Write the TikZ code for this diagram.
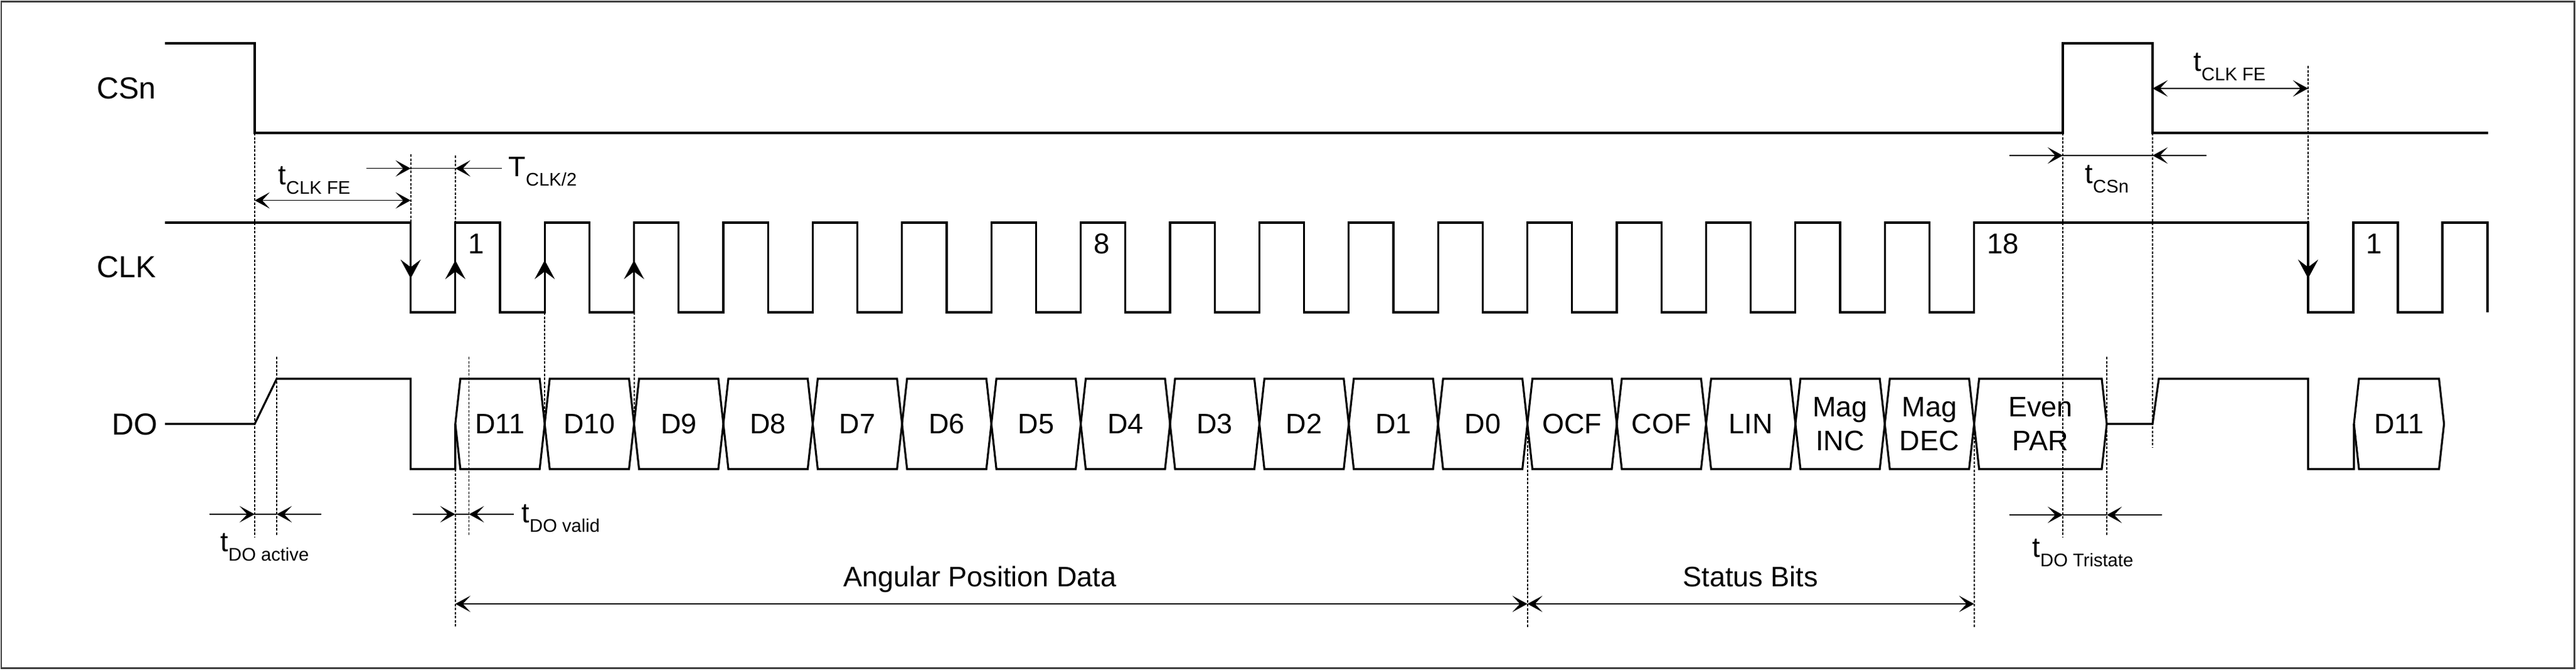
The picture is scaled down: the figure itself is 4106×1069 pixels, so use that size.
\documentclass[tikz,border=0pt]{standalone}
\usepackage{fontspec}
\setmainfont{Liberation Sans}
\usetikzlibrary{arrows.meta, positioning}
\newcommand{\tlab}[2]{#1\raisebox{-4.3pt}{\fontsize{8.3}{10}\selectfont #2}}

\begin{document}
\begin{tikzpicture}[x=0.1mm, y=-0.1mm]
    % Setup the styles for the waveforms and labels
        \tikzset{sig/.style={line width=0.9pt, line join=miter},
                 guide/.style={line width=0.55pt, dash pattern=on 1.2pt off 0.65pt},
                 dim/.style={line width=0.45pt,
                             >={Stealth[length=2.4mm, width=2.6mm, inset=1.2mm]}},
                 edge tip/.style={line width=0.9pt,
                             -{Stealth[length=3mm, width=3.2mm, inset=1.2mm]}},
                 sig label/.style={anchor=base west, inner sep=0,
                             font=\fontsize{13.8}{16}\selectfont},
                 cell label/.style={inner sep=0, align=center,
                             font=\fontsize{12.8}{15.3}\selectfont},
                 num label/.style={anchor=base west, inner sep=0,
                             font=\fontsize{13}{15}\selectfont},
                 time label/.style={anchor=base west, inner sep=0,
                             font=\fontsize{12.8}{15}\selectfont}}
        % Frame
        \useasboundingbox (0,0) rectangle (4106,1069);
        \draw[line width=0.85pt, black!75] (2,2) rectangle (4103,1065);
        % Signal names
        \node[sig label] at (153.5, 157)   (csn) {CSn};
        \node[sig label] at (153.5, 442.5) (clk) {CLK};
        \node[sig label, anchor=base east] at (252, 693) (do) {DO};
        % CSn
        \draw[sig] (263,69) -- (406,69) -- (406,212) -- (3288,212) -- (3288,69)
                   -- (3431,69) -- (3431,212) -- (3966,212);
        % CLK
        \draw[sig] (263,355) -- (654.6,355) -- (654.6,498) -- (725.8,498)
              \foreach \k in {0,...,16} { -- ++(0,-143) -- ++(71.2,0) -- ++(0,143) -- ++(71.2,0) }
              -- ++(0,-143) -- (3679,355) -- (3679,498) -- (3751,498) -- (3751,355)
              -- (3822,355) -- (3822,498) -- (3893,498) -- (3893,355) -- (3965,355) -- (3965,498);
        % DO
        \draw[sig] (263,676) -- (406,676) -- (441,604) -- (654.6,604) -- (654.6,748)
                   -- (725.8,748) -- (725.8,676);
        \foreach \lbl [count=\i from 0] in {D11,D10,D9,D8,D7,D6,D5,D4,D3,D2,D1,D0,
                                            OCF,COF,LIN,{Mag\\INC},{Mag\\DEC}} {
            \pgfmathsetmacro{\xa}{725.8+142.4*\i}
            \pgfmathsetmacro{\xb}{\xa+142.4}
            \draw[sig] (\xa,676) -- (\xa+8,604) -- (\xb-8,604) -- (\xb,676)
                       -- (\xb-8,748) -- (\xa+8,748) -- cycle;
            \node[cell label] at ({(\xa+\xb)/2},676) (cell\i) {\lbl};
        }
        \draw[sig] (3146.6,676) -- (3154.6,604) -- (3350,604) -- (3358,676)
                   -- (3350,748) -- (3154.6,748) -- cycle;
        \node[cell label] at (3252.3,676) (par) {Even\\PAR};
        \draw[sig] (3358,676) -- (3431,676) -- (3441,604) -- (3679,604) -- (3679,748)
                   -- (3752,748) -- (3752,676);
        \draw[sig] (3752,676) -- (3760,604) -- (3887.6,604) -- (3895.6,676)
                   -- (3887.6,748) -- (3760,748) -- cycle;
        \node[cell label] at (3823.8,676) (cellnext) {D11};
        % Clock numbers
        \node[num label] at (745.8,404)  (one)      {1};
        \node[num label] at (1742.6,404) (eight)    {8};
        \node[num label] at (3166.6,404) (eighteen) {18};
        \node[num label] at (3771,404)   (onenext)  {1};
        % Clock edge arrows
        \draw[edge tip] (654.6,355) -- (654.6,444);
        \foreach \x in {725.8,868.2,1010.6}
            \draw[edge tip] (\x,498) -- (\x,415);
        \draw[edge tip] (3679,355) -- (3679,444);
        % Guide lines
        \foreach \x/\ya/\yb in {406/212/857, 441/569/854, 654.6/246/355, 725.8/248/355,
                                725.8/748/1001, 747.5/569/854, 868.2/498/676, 1010.6/498/676,
                                2434.6/690/1000, 3146.6/690/1001, 3288/212/857, 3358/569/854,
                                3431/212/713, 3679/105/355}
            \draw[guide] (\x,\ya) -- (\x,\yb);
        % Timing arrows
        \draw[dim, <->] (406,319.6) -- (654.6,319.6);
        \draw[dim, ->] (583.5,268.6) -- (654.6,268.6);
        \draw[dim] (654.6,268.6) -- (725.8,268.6);
        \draw[dim, ->] (800,268.6) -- (725.8,268.6);
        \draw[dim, ->] (334,820) -- (406,820);
        \draw[dim] (406,820) -- (441,820);
        \draw[dim, ->] (512,820) -- (441,820);
        \draw[dim, ->] (658,820) -- (725.8,820);
        \draw[dim] (725.8,820) -- (747.5,820);
        \draw[dim, ->] (819,820) -- (747.5,820);
        \draw[dim, <->] (725.8,963) -- (2434.6,963);
        \draw[dim, <->] (2434.6,963) -- (3146.6,963);
        \draw[dim, ->] (3203,248) -- (3288,248);
        \draw[dim] (3288,248) -- (3431,248);
        \draw[dim, ->] (3517,248) -- (3431,248);
        \draw[dim, <->] (3431,141) -- (3679,141);
        \draw[dim, ->] (3203,821) -- (3288,821);
        \draw[dim] (3288,821) -- (3358,821);
        \draw[dim, ->] (3446,821) -- (3358,821);
        % Timing labels
        \node[time label] at (443,294)    (tfe)   {\tlab{t}{CLK FE}};
        \node[time label] at (810,281)    (thalf) {\tlab{T}{CLK/2}};
        \node[time label] at (351,879)    (tact)  {\tlab{t}{DO active}};
        \node[time label] at (831,833.5)  (tval)  {\tlab{t}{DO valid}};
        \node[time label] at (3323,292.7) (tcs)   {\tlab{t}{CSn}};
        \node[time label] at (3496,113.6) (tfe2)  {\tlab{t}{CLK FE}};
        \node[time label] at (3239,888)   (ttri)  {\tlab{t}{DO Tristate}};
        \node[time label, anchor=base] at (1561.6,935) (apd)    {Angular Position Data};
        \node[time label, anchor=base] at (2790,935)   (status) {Status Bits};
\end{tikzpicture}
\end{document}
